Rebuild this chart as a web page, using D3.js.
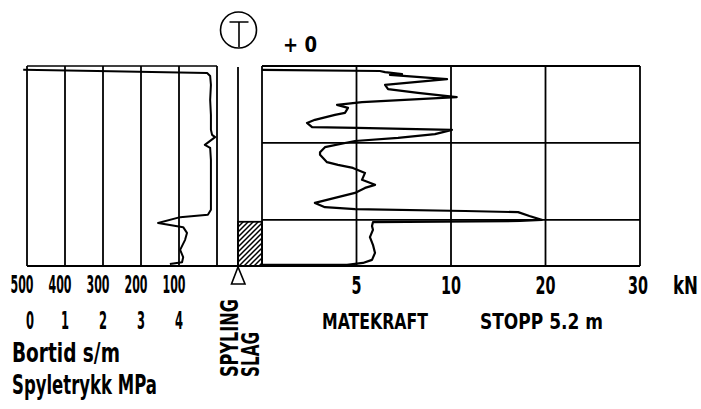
<!DOCTYPE html>
<html><head><meta charset="utf-8">
<script src="https://cdn.jsdelivr.net/npm/d3@7"></script>
<style>
html,body{margin:0;padding:0;background:#fff;}
text{font-family:"Liberation Sans Narrow","DejaVu Sans Condensed","Liberation Sans",Arial,sans-serif;fill:#000;font-weight:bold;}
</style></head>
<body>
<svg id="c" width="701" height="409"></svg>
<script>
// ---- data ----
const depthMax = 5.2;             // STOPP 5.2 m
const depthGrid = [2, 4];          // horizontal grid lines (m)
const bortidTicks = [500, 400, 300, 200, 100];
const bortidGrid = [0, 100, 200, 300, 400, 500];
const spyleTicks = [0, 1, 2, 3, 4];
const kraftTicks = [5, 10, 20, 30];
const kraftGrid = [0, 5, 10, 20, 30];
const slagInterval = [4.05, 5.2];

// Matekraft (kN) vs depth (m)
const mkDepth = [0.10,0.13,0.16,0.21,0.23,0.34,0.49,0.60,0.70,0.81,0.94,1.01,1.09,1.22,1.27,1.40,1.48,1.59,1.61,1.66,1.77,1.87,1.95,2.11,2.24,2.31,2.50,2.57,2.65,2.78,2.96,3.09,3.17,3.30,3.43,3.56,3.67,3.72,3.77,3.80,3.90,4.00,4.03,4.06,4.16,4.26,4.45,4.65,4.86,5.04,5.12,5.17,5.17];
const mkKN    = [0.0,6.24,6.51,7.41,6.77,9.79,6.51,6.67,8.25,10.6,5.29,3.97,4.55,4.39,3.86,2.80,2.38,2.65,5.03,10.1,9.15,7.20,4.92,3.33,3.07,3.07,3.44,4.02,4.81,5.45,5.29,5.98,5.45,4.92,3.86,2.80,3.33,4.92,11.5,17.1,18.3,19.6,17.3,5.87,5.82,5.87,5.71,5.87,5.98,5.82,5.34,4.50,0.0];

// Bortid (s/m) vs depth (m)
const btDepth = [0.10,0.13,0.18,0.26,0.49,0.88,1.27,1.66,1.79,1.85,2.05,2.13,2.44,2.96,3.48,3.74,3.87,3.93,4.08,4.19,4.34,4.52,4.78,4.97,5.10,5.15];
const btValue = [510,316,26,18,16,18,16,16,13,5,32,18,16,16,16,16,24,97,155,89,79,84,97,89,92,124];

// ---- scales ----
const svg = d3.select("#c");
const y = d3.scaleLinear().domain([0, depthMax]).range([66, 266]);
const xB = d3.scaleLinear().domain([0, 500]).range([217, 27]);
const xP = d3.scaleLinear().domain([0, 5]).range([27, 217]);
const xK = d3.scaleLinear().domain([0, 10, 30]).range([262, 451, 640]);

const g = svg.append("g").attr("stroke", "#000").attr("fill", "none");

// hatch pattern
const defs = svg.append("defs");
const pat = defs.append("pattern").attr("id", "hatch").attr("patternUnits", "userSpaceOnUse")
  .attr("width", 5).attr("height", 5);
pat.append("path").attr("d", "M-1,1 L1,-1 M0,5 L5,0 M4,6 L6,4").attr("stroke", "#000").attr("stroke-width", 1.5);

// left panel grid (Bortid)
g.selectAll("line.bg").data(bortidGrid).join("line")
  .attr("x1", d => xB(d)).attr("x2", d => xB(d))
  .attr("y1", y(0)).attr("y2", y(depthMax)).attr("stroke-width", 1.8);
g.append("line").attr("x1", xB(500)).attr("x2", xB(0)).attr("y1", y(0)).attr("y2", y(0)).attr("stroke-width", 1.6);

// right panel grid (Matekraft)
g.selectAll("line.kg").data(kraftGrid).join("line")
  .attr("x1", d => xK(d)).attr("x2", d => xK(d))
  .attr("y1", y(0)).attr("y2", y(depthMax)).attr("stroke-width", 1.8);
g.selectAll("line.dg").data([0].concat(depthGrid)).join("line")
  .attr("x1", xK(0)).attr("x2", xK(30))
  .attr("y1", d => y(d)).attr("y2", d => y(d)).attr("stroke-width", 1.8);

// middle column
g.append("rect").attr("x", 238).attr("y", y(slagInterval[0]))
  .attr("width", xK(0) - 238).attr("height", y(slagInterval[1]) - y(slagInterval[0]))
  .attr("fill", "url(#hatch)").attr("stroke-width", 1.8);
g.append("line").attr("x1", 238).attr("x2", 238).attr("y1", y(0) + 1).attr("y2", y(depthMax)).attr("stroke-width", 1.8);

// base line
g.append("line").attr("x1", xB(500)).attr("x2", xK(30)).attr("y1", y(depthMax)).attr("y2", y(depthMax)).attr("stroke-width", 2);

// triangle
g.append("path").attr("d", "M238,267 L231.5,284 L245,284 Z").attr("stroke-width", 1.6);

// T symbol
g.append("circle").attr("cx", 238.5).attr("cy", 30).attr("r", 18).attr("stroke-width", 1.6);
g.append("path").attr("d", "M229.5,22 L248.5,22 M239,22 L239,47").attr("stroke-width", 1.6);

// curves
const lineMk = d3.line().x(d => xK(d[1])).y(d => y(d[0]));
g.append("path").datum(d3.zip(mkDepth, mkKN)).attr("d", lineMk).attr("stroke-width", 2.2).attr("stroke-linejoin", "round");
const lineBt = d3.line().x(d => xB(d[1])).y(d => y(d[0]));
g.append("path").datum(d3.zip(btDepth, btValue)).attr("d", lineBt).attr("stroke-width", 2).attr("stroke-linejoin", "round");

// ---- text (compressed horizontally to match the narrow plotter lettering) ----
function txt(s, x, yy, size, len, anchor, rot) {
  const t = svg.append("text").attr("font-size", size).text(s)
    .attr("text-anchor", anchor || "start");
  const w = t.node().getComputedTextLength();
  const sx = len ? len / w : 1;
  t.attr("transform", `translate(${x},${yy})${rot ? ` rotate(${rot})` : ""} scale(${sx},1)`);
  return t;
}
bortidTicks.forEach(v => txt(String(v), xB(v) - 5, 293, 25, 23, "middle"));
spyleTicks.forEach(v => txt(String(v), xP(v) + (v === 0 ? 3 : 0), 329, 25, 8, "middle"));
kraftTicks.forEach(v => txt(String(v), xK(v) + (v === 30 ? -2 : 0), 294, 25, String(v).length * 10, "middle"));
txt("kN", 673, 294, 24, 25);
txt("MATEKRAFT", 322, 329, 22, 106);
txt("STOPP 5.2 m", 480, 329, 22, 123);
txt("Bortid s/m", 12, 362, 26, 108);
txt("Spyletrykk MPa", 12, 394, 26, 145);
txt("SPYLING", 238, 377, 24, 78, "start", -90);
txt("SLAG", 259, 377, 24, 45, "start", -90);
txt("+ 0", 283, 52, 22, 34);
</script>
</body></html>
